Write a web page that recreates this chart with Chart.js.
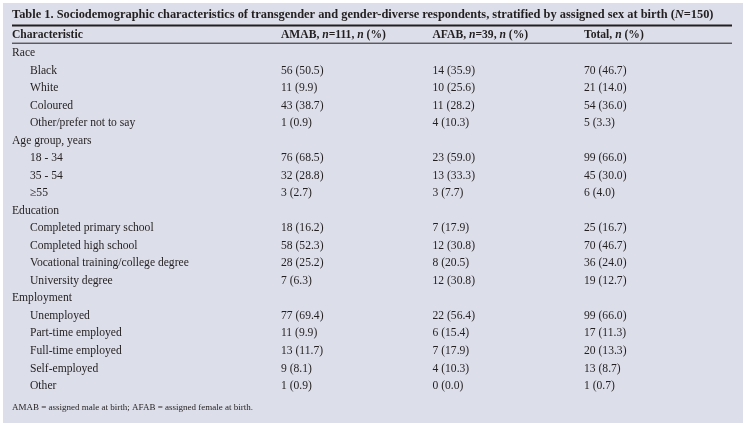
<!DOCTYPE html>
<html>
<head>
<meta charset="utf-8">
<script src="https://cdn.jsdelivr.net/npm/chart.js@4"></script>
<style>
  body { margin: 0; background: #fff; }
  #quadro { width: 746px; height: 426px; }
</style>
</head>
<body>
<div id="quadro"><canvas id="tabela"></canvas></div>
<script>
// texto entre *...* sai em italico
const titulo = 'Table 1. Sociodemographic characteristics of transgender and gender-diverse respondents, stratified by assigned sex at birth (*N*=150)';
const cabecalhoCaracteristica = 'Characteristic';
const colunas = ['AMAB', 'AFAB', 'Total'];
const cabecalhoColunas = ['AMAB, *n*=111, *n* (%)', 'AFAB, *n*=39, *n* (%)', 'Total, *n* (%)'];
const nota = 'AMAB = assigned male at birth; AFAB = assigned female at birth.';

const grupos = ['Race', 'Age group, years', 'Education', 'Employment'];
const itensRaca = ['Black', 'White', 'Coloured', 'Other/prefer not to say'];
const itensIdade = ['18 - 34', '35 - 54', '≥55'];
const itensEducacao = ['Completed primary school', 'Completed high school', 'Vocational training/college degree', 'University degree'];
const itensEmprego = ['Unemployed', 'Part-time employed', 'Full-time employed', 'Self-employed', 'Other'];

const amabN   = [56, 11, 43, 1,   76, 32, 3,   18, 58, 28, 7,   77, 11, 13, 9, 1];
const amabPct = [50.5, 9.9, 38.7, 0.9,   68.5, 28.8, 2.7,   16.2, 52.3, 25.2, 6.3,   69.4, 9.9, 11.7, 8.1, 0.9];
const afabN   = [14, 10, 11, 4,   23, 13, 3,   7, 12, 8, 12,   22, 6, 7, 4, 0];
const afabPct = [35.9, 25.6, 28.2, 10.3,   59.0, 33.3, 7.7,   17.9, 30.8, 20.5, 30.8,   56.4, 15.4, 17.9, 10.3, 0.0];
const totalN   = [70, 21, 54, 5,   99, 45, 6,   25, 70, 36, 19,   99, 17, 20, 13, 1];
const totalPct = [46.7, 14.0, 36.0, 3.3,   66.0, 30.0, 4.0,   16.7, 46.7, 24.0, 12.7,   66.0, 11.3, 13.3, 8.7, 0.7];

const COR_FUNDO = '#dcdee9';
const COR_TEXTO = '#231f20';
const FONTE = '"Liberation Serif", "Times New Roman", serif';
const TAM_TEXTO = 11.6;

// monta as linhas da tabela: grupo seguido dos seus itens
var linhas = [];
var linhasItens = [];
[itensRaca, itensIdade, itensEducacao, itensEmprego].forEach(function (itens, g) {
    linhas.push(grupos[g]);
    itens.forEach(function (item) {
        linhasItens.push(linhas.length);
        linhas.push(item);
    });
});

const valoresN = [amabN, afabN, totalN];
const valoresPct = [amabPct, afabPct, totalPct];

function celula(c, k) {
    return valoresN[c][k] + ' (' + valoresPct[c][k].toFixed(1) + ')';
}

function textoRico(ctx, texto, x, y, peso, tamanho) {
    var partes = texto.split('*');
    for (var i = 0; i < partes.length; i++) {
        ctx.font = (i % 2 == 1 ? 'italic ' : '') + peso + ' ' + tamanho + 'px ' + FONTE;
        ctx.fillText(partes[i], x, y);
        x += ctx.measureText(partes[i]).width;
    }
}

function regua(ctx, y, espessura) {
    ctx.beginPath();
    ctx.lineWidth = espessura;
    ctx.moveTo(12, y);
    ctx.lineTo(732, y);
    ctx.stroke();
}

const pluginTabela = {
    id: 'pluginTabela',
    beforeDraw(chart) {
        const ctx = chart.ctx;
        ctx.save();
        ctx.fillStyle = '#ffffff';
        ctx.fillRect(0, 0, chart.width, chart.height);
        ctx.fillStyle = COR_FUNDO;
        ctx.fillRect(3, 3, chart.width - 6, chart.height - 6);
        ctx.restore();
    },
    afterDatasetsDraw(chart) {
        const ctx = chart.ctx;
        const area = chart.chartArea;
        const x = chart.scales.x;
        const y = chart.scales.y;
        ctx.save();
        ctx.fillStyle = COR_TEXTO;
        ctx.strokeStyle = COR_TEXTO;
        ctx.textBaseline = 'middle';
        ctx.textAlign = 'left';

        textoRico(ctx, titulo, 12, 15, 'bold', 12.4);
        regua(ctx, 25.5, 2);

        textoRico(ctx, cabecalhoCaracteristica, 12, 34.5, 'bold', TAM_TEXTO);
        cabecalhoColunas.forEach(function (t, i) {
            textoRico(ctx, t, x.getPixelForValue(i), 34.5, 'bold', TAM_TEXTO);
        });
        regua(ctx, area.top, 1);

        // o "middle" da fonte fica um pouco alto, desce 1px
        ctx.font = TAM_TEXTO + 'px ' + FONTE;
        linhas.forEach(function (rotulo, i) {
            var recuo = grupos.includes(rotulo) ? 12 : 30;
            ctx.fillText(y.getLabelForValue(i), recuo, y.getPixelForValue(i) + 1);
        });

        chart.data.datasets.forEach(function (ds, c) {
            chart.getDatasetMeta(c).data.forEach(function (ponto, k) {
                ctx.fillText(celula(c, k), ponto.x, ponto.y + 1);
            });
        });

        ctx.font = '9px ' + FONTE;
        ctx.fillText(nota, 12, 408);
        ctx.restore();
    }
};

const grafico = document.getElementById('tabela').getContext('2d');
new Chart(grafico, {
    type: 'scatter',
    data: {
        datasets: colunas.map(function (col) {
            return {
                label: col,
                data: linhasItens.map(function (linha) { return { x: col, y: linhas[linha] }; }),
                pointRadius: 0,
                showLine: false
            };
        })
    },
    options: {
        responsive: true,
        maintainAspectRatio: false,
        animation: false,
        layout: {
            padding: { left: 281, right: 162, top: 43.2, bottom: 32.2 }
        },
        plugins: {
            legend: { display: false },
            tooltip: { enabled: false }
        },
        scales: {
            x: { type: 'category', labels: colunas, offset: false, display: false },
            y: { type: 'category', labels: linhas, offset: true, display: false }
        }
    },
    plugins: [pluginTabela]
});
</script>
</body>
</html>
